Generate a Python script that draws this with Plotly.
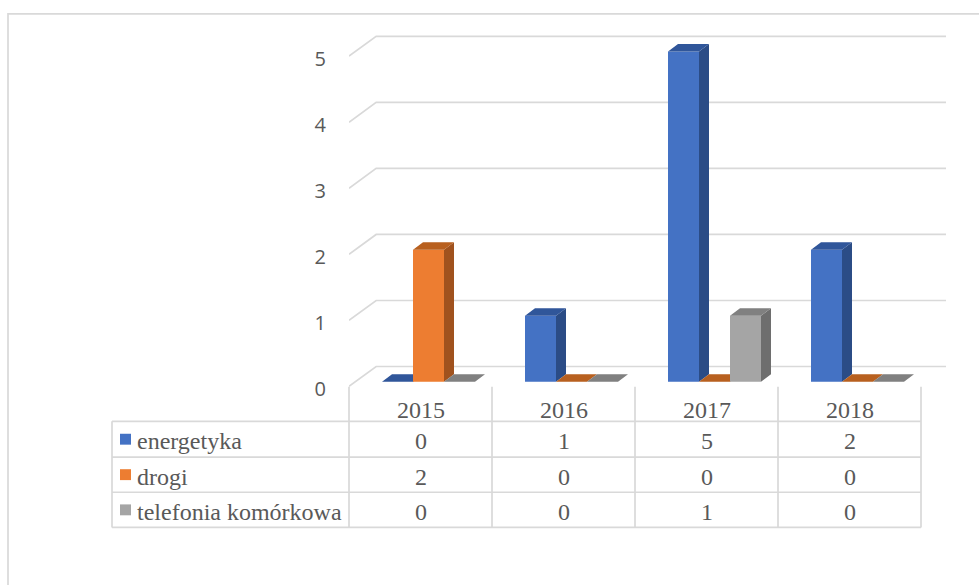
import plotly.graph_objects as go

# ---------------- data ----------------
years = ["2015", "2016", "2017", "2018"]
series_names = ["energetyka", "drogi", "telefonia komórkowa"]
energetyka = [0, 1, 5, 2]
drogi = [2, 0, 0, 0]
telefonia = [0, 0, 1, 0]
y_ticks = [0, 1, 2, 3, 4, 5]

series_values = [energetyka, drogi, telefonia]
front_colors = ["#4472C4", "#ED7D31", "#A5A5A5"]
side_colors = ["#2B4C86", "#A0521E", "#6E6E6E"]
top_colors = ["#30569A", "#B8601F", "#808080"]

W, H = 979, 585
GRID = "#D9D9D9"
TXT = "#595959"

def px(x):
    return x / W

def py(y):
    return 1 - y / H

# geometry of the pseudo-3D look (in axis units)
bar_w = 31 / 143.0
shift = 8 / 143.0
depth_x = 10 / 143.0
depth_y = 7.5 / 66.6

fig = go.Figure()

# back wall gridlines with the side-wall diagonal
gx, gy = [], []
for v in y_ticks:
    gx += [-0.5, -0.31, 3.675, None]
    gy += [v - 0.07, v + 0.23, v + 0.23, None]
fig.add_trace(go.Scatter(x=gx, y=gy, mode="lines", line=dict(color=GRID, width=1.7),
                         hoverinfo="skip", showlegend=False))

# bars: front, side and top faces as filled polygons
for s, vals in enumerate(series_values):
    fx, fy, sx, sy, tx, ty = [], [], [], [], [], []
    for i, v in enumerate(vals):
        c = i + shift + (s - 1) * bar_w
        xl, xr = c - bar_w / 2, c + bar_w / 2
        fx += [xl, xr, xr, xl, xl, None]
        fy += [0, 0, v, v, 0, None]
        sx += [xr, xr + depth_x, xr + depth_x, xr, xr, None]
        sy += [0, depth_y, v + depth_y, v, 0, None]
        tx += [xl, xl + depth_x, xr + depth_x, xr, xl, None]
        ty += [v, v + depth_y, v + depth_y, v, v, None]
    fig.add_trace(go.Scatter(x=fx, y=fy, mode="lines", fill="toself", fillcolor=front_colors[s],
                             line=dict(width=0), name=series_names[s], showlegend=False,
                             hoverinfo="skip"))
    fig.add_trace(go.Scatter(x=sx, y=sy, mode="lines", fill="toself", fillcolor=side_colors[s],
                             line=dict(width=0), showlegend=False, hoverinfo="skip"))
    fig.add_trace(go.Scatter(x=tx, y=ty, mode="lines", fill="toself", fillcolor=top_colors[s],
                             line=dict(width=0), showlegend=False, hoverinfo="skip"))

# ---------------- axes ----------------
x_left_px, x_right_px = 349, 950
y_bottom_px, y_top_px = 400, 30
fig.update_xaxes(domain=[px(x_left_px), px(x_right_px)],
                 range=[-0.5, -0.5 + (x_right_px - x_left_px) / 143.0],
                 showgrid=False, zeroline=False, showticklabels=False, showline=False)
fig.update_yaxes(domain=[py(y_bottom_px), py(y_top_px)],
                 range=[(385 - y_bottom_px) / 66.6, (385 - y_top_px) / 66.6],
                 tickvals=y_ticks, ticktext=[str(t) for t in y_ticks],
                 showgrid=False, zeroline=False, showline=False, ticks="",
                 ticklabelstandoff=22, ticklabelshift=7,
                 tickfont=dict(family="Open Sans", size=20, color=TXT))

# ---------------- data table ----------------
shapes = []
def hline(x0, x1, y):
    shapes.append(dict(type="line", xref="paper", yref="paper", x0=px(x0), x1=px(x1),
                       y0=py(y), y1=py(y), line=dict(color=GRID, width=1.7)))
def vline(x, y0, y1):
    shapes.append(dict(type="line", xref="paper", yref="paper", x0=px(x), x1=px(x),
                       y0=py(y0), y1=py(y1), line=dict(color=GRID, width=1.7)))

col_edges = [349, 492, 635, 778, 921]
row_edges = [425, 461, 496.5, 532]
label_left = 112
for y in row_edges:
    hline(label_left, col_edges[-1], y)
for x in col_edges:
    vline(x, 390, row_edges[-1])
vline(label_left, row_edges[0], row_edges[-1])

# outer chart frame
shapes.append(dict(type="rect", xref="paper", yref="paper", x0=px(8), x1=px(1000),
                   y0=py(610), y1=py(14), line=dict(color=GRID, width=1.7)))

annotations = []
tfont = dict(family="'Liberation Serif', 'Times New Roman', serif", size=24, color=TXT)
for i, yr in enumerate(years):
    xc = (col_edges[i] + col_edges[i + 1]) / 2
    annotations.append(dict(x=px(xc), y=py(414), xref="paper", yref="paper", text=yr,
                            showarrow=False, font=tfont, xanchor="center", yanchor="middle"))
    for r, vals in enumerate(series_values):
        yc = (row_edges[r] + row_edges[r + 1]) / 2 + 2
        annotations.append(dict(x=px(xc), y=py(yc), xref="paper", yref="paper",
                                text=str(vals[i]), showarrow=False, font=tfont,
                                xanchor="center", yanchor="middle"))
for r, name in enumerate(series_names):
    yc = (row_edges[r] + row_edges[r + 1]) / 2
    shapes.append(dict(type="rect", xref="paper", yref="paper", x0=px(120), x1=px(131),
                       y0=py(yc + 5.5), y1=py(yc - 5.5), fillcolor=front_colors[r],
                       line=dict(width=0)))
    annotations.append(dict(x=px(135), y=py(yc + 2), xref="paper", yref="paper", text=name,
                            showarrow=False, font=tfont, xanchor="left", yanchor="middle"))

fig.update_layout(width=W, height=H, margin=dict(l=0, r=0, t=0, b=0),
                  paper_bgcolor="white", plot_bgcolor="white",
                  shapes=shapes, annotations=annotations, showlegend=False)

fig.write_html("out.html", config={"displayModeBar": False},
               post_script="document.body.style.margin='0px';")
